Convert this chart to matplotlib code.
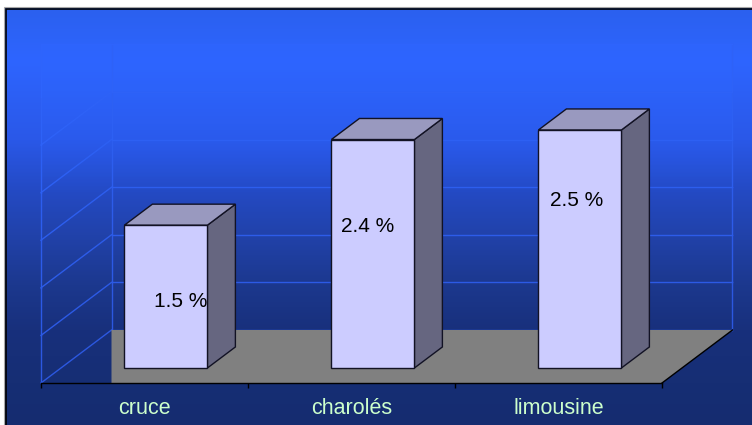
import numpy as np
import matplotlib
matplotlib.use("Agg")
import matplotlib.pyplot as plt

categories = ["cruce", "charolés", "limousine"]
values = [1.5, 2.4, 2.5]
value_labels = ["1.5 %", "2.4 %", "2.5 %"]
grid_values = [0.5, 1.0, 1.5, 2.0, 2.5, 3.0]

W, H = 752, 425
plt.rcParams["font.family"] = ["Liberation Sans", "DejaVu Sans"]

# pixels per x/y unit of the chart axes, and the oblique depth offset in data units
PX_X = 207.0
PX_Y = 95.2
X0_PX, Y0_PX = 41.0, 383.0
DX = 70.5 / PX_X
DY = 53.0 / PX_Y
BAR_W = 0.401
BAR_FRONT = 0.283
BAR_BACK = 0.68


def rgb(r, g, b):
	return (r / 255, g / 255, b / 255)


def oblique(x, y, d):
	return x + d * DX, y + d * DY


def grid_color(v):
	# wall lines brighten with height until they nearly melt into the panel
	t = min(v / 3.0, 1.0)
	low = np.array([44, 88, 224])
	high = np.array([46, 100, 252])
	return tuple((low + (high - low) * t) / 255)


fig = plt.figure(figsize=(W / 100, H / 100), dpi=100, facecolor="white")

# background panel, in pixel coordinates
bg = fig.add_axes([0, 0, 1, 1])
bg.set_xlim(0, W)
bg.set_ylim(H, 0)
bg.axis("off")

stop_y = np.array([8, 60, 140, 190, 235, 285, 330, 383, 425])
stop_r = [43, 46, 42, 36, 33, 28, 24, 22, 21]
stop_g = [96, 101, 88, 74, 66, 56, 48, 46, 44]
stop_b = [238, 255, 232, 196, 170, 142, 124, 116, 112]
rows = np.arange(8, H) + 0.5
grad = np.stack([np.interp(rows, stop_y, c) / 255 for c in (stop_r, stop_g, stop_b)], axis=1)
bg.imshow(grad[:, None, :], extent=(5, W, H, 8), aspect="auto", interpolation="bilinear", zorder=1)

# lighter haze over the top of the plot area
haze = np.zeros((160, 1, 4))
haze[:, :, 0:3] = rgb(46, 102, 255)
haze[:, 0, 3] = np.linspace(0.5, 0.0, 160)
bg.imshow(haze, extent=(41, 732, 204, 44), aspect="auto", zorder=2)
bg.set_xlim(0, W)
bg.set_ylim(H, 0)

bg.plot([5.5, 5.5, W], [H, 8.5, 8.5], color="black", lw=1.2, zorder=3, solid_joinstyle="miter")
bg.plot([4.2, 4.2, W], [H, 7.2, 7.2], color="#a8a8a8", lw=0.8, zorder=3, solid_joinstyle="miter")

# chart axes on top
ax = fig.add_axes([0, 0, 1, 1])
ax.patch.set_alpha(0)
ax.set_xlim(-X0_PX / PX_X, (W - X0_PX) / PX_X)
ax.set_ylim((Y0_PX - H) / PX_Y, Y0_PX / PX_Y)

n = len(categories)
top = max(grid_values)

# floor, the left side stops at the back wall corner
bx, by = oblique(0, 0, 1)
rx, ry = oblique(n, 0, 1)
ax.fill([bx, rx, n, bx], [by, ry, 0, 0], color=rgb(128, 128, 128), lw=0, zorder=2)
ax.plot([n, rx], [0, ry], color="black", lw=1.0, zorder=3)

# walls and gridlines, verticals drawn level by level so they fade with height
levels = [0] + grid_values
for v, v_next in zip(levels, grid_values + [None]):
	col = grid_color(v)
	x1, y1 = oblique(0, v, 1)
	x2, y2 = oblique(n, v, 1)
	ax.plot([x1, x2], [y1, y2], color=col, lw=1.0, zorder=1)
	if v < top:
		ax.plot([0, x1], [v, y1], color=col, lw=1.0, zorder=1)
	if v_next is not None:
		ax.plot([x1, x1], [y1, by + v_next], color=col, lw=1.0, zorder=1)
		ax.plot([x2, x2], [y2, ry + v_next], color=col, lw=1.0, zorder=1)
		ax.plot([0, 0], [v, v_next], color=col, lw=1.0, zorder=1)
ax.plot([0, 0], [top, by + top], color=grid_color(top), lw=1.0, zorder=1)
ax.plot([0, bx], [by + top, by + top], color=grid_color(top), lw=1.0, zorder=1)

# bars: front face through ax.bar, then the oblique side and top
front = rgb(204, 204, 255)
side = rgb(102, 102, 128)
lid = rgb(153, 153, 191)
edge = rgb(18, 18, 36)
centers = [i + 0.507 for i in range(n)]
x_front = [c + BAR_FRONT * DX for c in centers]
y_front = BAR_FRONT * DY
ax.bar(x_front, values, width=BAR_W, bottom=y_front, color=front, edgecolor=edge, linewidth=1.0, zorder=5)
step = BAR_BACK - BAR_FRONT
for x, v in zip(x_front, values):
	xr = x + BAR_W / 2
	xl = x - BAR_W / 2
	yt = y_front + v
	ax.fill([xr, xr + step * DX, xr + step * DX, xr],
			[y_front, y_front + step * DY, yt + step * DY, yt],
			facecolor=side, edgecolor=edge, lw=1.0, zorder=4)
	ax.fill([xl, xl + step * DX, xr + step * DX, xr],
			[yt, yt + step * DY, yt + step * DY, yt],
			facecolor=lid, edgecolor=edge, lw=1.0, zorder=4)

# value labels sit inside the bars
label_x = [0.676, 1.579, 2.586]
label_y = [0.855, 1.639, 1.922]
for x, y, s in zip(label_x, label_y, value_labels):
	ax.text(x, y, s, fontsize=15, color="black", ha="center", va="center", zorder=6)

# category axis along the front of the floor
for name in ("top", "left", "right"):
	ax.spines[name].set_visible(False)
ax.spines["bottom"].set_position(("data", 0))
ax.spines["bottom"].set_bounds(0, n)
ax.spines["bottom"].set_linewidth(1.0)
ax.spines["bottom"].set_zorder(3)
ax.yaxis.set_visible(False)
ax.set_xticks(range(n + 1))
ax.set_xticklabels([])
ax.set_xticks([i + 0.5 for i in range(n)], minor=True)
ax.set_xticklabels(categories, minor=True, fontsize=15.5, color=rgb(204, 255, 204))
ax.tick_params(axis="x", which="major", length=3.5, width=1.0, color="black", direction="out")
ax.tick_params(axis="x", which="minor", length=0, pad=10.5)

fig.savefig("out.png", dpi=100)
